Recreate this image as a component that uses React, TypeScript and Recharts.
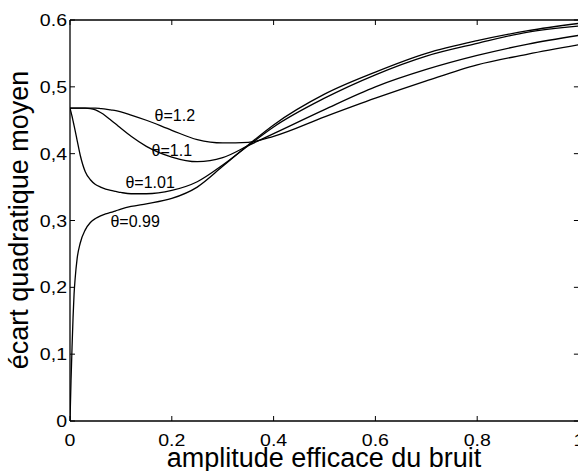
import React from 'react';
import { LineChart, Line, XAxis, YAxis, ReferenceDot, ReferenceLine } from 'recharts';

// shared abscissa grid (rms noise amplitude)
const X = [0, 0.002, 0.004, 0.006, 0.008, 0.01, 0.014, 0.02, 0.03, 0.04, 0.05, 0.06, 0.07, 0.08, 0.09, 0.1, 0.12, 0.15, 0.2, 0.25, 0.3, 0.35, 0.4, 0.5, 0.6, 0.7, 0.8, 0.9, 1.0];

const THETA_12 = [0.468, 0.468, 0.468, 0.468, 0.468, 0.468, 0.468, 0.468, 0.468, 0.468, 0.468, 0.4675, 0.4668, 0.4655, 0.4643, 0.4625, 0.4578, 0.45, 0.435, 0.421, 0.416, 0.417, 0.426, 0.455, 0.483, 0.509, 0.533, 0.549, 0.563];
const THETA_11 = [0.468, 0.468, 0.468, 0.468, 0.468, 0.468, 0.468, 0.468, 0.468, 0.4675, 0.4655, 0.4615, 0.4565, 0.4505, 0.4443, 0.438, 0.426, 0.411, 0.395, 0.388, 0.394, 0.412, 0.43, 0.466, 0.5, 0.526, 0.547, 0.564, 0.577];
const THETA_101 = [0.468, 0.462, 0.456, 0.449, 0.442, 0.435, 0.42, 0.398, 0.373, 0.361, 0.354, 0.35, 0.347, 0.345, 0.3435, 0.342, 0.34, 0.34, 0.345, 0.358, 0.383, 0.412, 0.44, 0.483, 0.518, 0.546, 0.565, 0.582, 0.591];
const THETA_099 = [0, 0.06, 0.11, 0.155, 0.19, 0.212, 0.243, 0.266, 0.286, 0.297, 0.303, 0.307, 0.31, 0.312, 0.3145, 0.317, 0.321, 0.325, 0.333, 0.35, 0.381, 0.413, 0.443, 0.489, 0.522, 0.55, 0.569, 0.584, 0.595];

const X_TICKS = [0, 0.2, 0.4, 0.6, 0.8, 1];
const X_TICK_LABELS = ['0', '0.2', '0.4', '0.6', '0.8', '1'];
const Y_TICKS = [0, 0.1, 0.2, 0.3, 0.4, 0.5, 0.6];
const Y_TICK_LABELS = ['0', '0,1', '0,2', '0,3', '0,4', '0,5', '0.6'];

// curve annotations, placed in data coordinates
const CURVE_LABELS = [
  { text: 'θ=1.2', x: 0.206, y: 0.458 },
  { text: 'θ=1.1', x: 0.2, y: 0.4055 },
  { text: 'θ=1.01', x: 0.1575, y: 0.3576 },
  { text: 'θ=0.99', x: 0.128, y: 0.299 },
];

const data = X.map((x, i) => ({
  x,
  t12: THETA_12[i],
  t11: THETA_11[i],
  t101: THETA_101[i],
  t099: THETA_099[i],
}));

const FONT = '"Liberation Sans", Arial, Helvetica, sans-serif';
const TICK_LEN = 5;
// tick length expressed in data units for the top / right inward ticks
const X_TICK_D = 0.01;
const Y_TICK_D = 0.0075;

const labelFor = (ticks: number[], labels: string[], v: number) => {
  const i = ticks.findIndex(t => Math.abs(t - v) < 1e-9);
  return i >= 0 ? labels[i] : String(v);
};

const BottomTick = ({ x, y, payload }: any) => (
  <g>
    <line x1={x} y1={y} x2={x} y2={y - TICK_LEN} stroke="#000" strokeWidth={1} />
    <text transform={`translate(${x},${y + 25}) scale(1.15,1)`} textAnchor="middle" fontSize={17} fontFamily={FONT} fill="#000">
      {labelFor(X_TICKS, X_TICK_LABELS, payload.value)}
    </text>
  </g>
);

const LeftTick = ({ x, y, payload }: any) => (
  <g>
    <line x1={x} y1={y} x2={x + TICK_LEN} y2={y} stroke="#000" strokeWidth={1} />
    <text transform={`translate(${x - 3},${y + 6}) scale(1.15,1)`} textAnchor="end" fontSize={17} fontFamily={FONT} fill="#000">
      {labelFor(Y_TICKS, Y_TICK_LABELS, payload.value)}
    </text>
  </g>
);

const series = [
  { key: 't12' },
  { key: 't11' },
  { key: 't101' },
  { key: 't099' },
];

export default function App() {
  return (
    <div style={{ position: 'absolute', left: 0, top: 0, width: 578, height: 471, overflow: 'hidden', background: '#fff' }}>
      <LineChart width={600} height={471} data={data} margin={{ top: 20, right: 21, bottom: 0, left: 0 }}>
        <XAxis xAxisId="x" dataKey="x" type="number" domain={[0, 1]} ticks={X_TICKS} interval={0}
          height={50} tickSize={0} tickMargin={0} tickLine={false}
          axisLine={{ stroke: '#000', strokeWidth: 1.3 }} tick={<BottomTick />} allowDataOverflow />
        <YAxis yAxisId="y" type="number" domain={[0, 0.6]} ticks={Y_TICKS} interval={0}
          width={70} tickSize={0} tickMargin={0} tickLine={false}
          axisLine={{ stroke: '#000', strokeWidth: 1.3 }} tick={<LeftTick />} allowDataOverflow />
        {/* box: top and right edges with inward ticks */}
        <ReferenceLine xAxisId="x" yAxisId="y" y={0.6} stroke="#000" strokeWidth={1.3} />
        <ReferenceLine xAxisId="x" yAxisId="y" x={1} stroke="#000" strokeWidth={1.3} />
        {X_TICKS.map(t => (
          <ReferenceLine key={'tx' + t} xAxisId="x" yAxisId="y" stroke="#000" strokeWidth={1}
            segment={[{ x: t, y: 0.6 }, { x: t, y: 0.6 - Y_TICK_D }]} />
        ))}
        {Y_TICKS.map(t => (
          <ReferenceLine key={'ty' + t} xAxisId="x" yAxisId="y" stroke="#000" strokeWidth={1}
            segment={[{ x: 1, y: t }, { x: 1 - X_TICK_D, y: t }]} />
        ))}
        {series.map(s => (
          <Line key={s.key} xAxisId="x" yAxisId="y" dataKey={s.key} type="monotone"
            stroke="#000" strokeWidth={1.3} dot={false} activeDot={false} isAnimationActive={false} />
        ))}
        {CURVE_LABELS.map(l => (
          <ReferenceDot key={l.text} xAxisId="x" yAxisId="y" x={l.x} y={l.y} r={0}
            shape={(p: any) => (
              <text x={p.cx} y={p.cy + 6} textAnchor="middle" fontSize={16} fontFamily={FONT} fill="#000">{l.text}</text>
            )} />
        ))}
      </LineChart>
      <svg width={578} height={471} style={{ position: 'absolute', left: 0, top: 0, pointerEvents: 'none' }}>
        <text x={324} y={467} textAnchor="middle" fontSize={27} fontFamily={FONT} fill="#000">amplitude efficace du bruit</text>
        <text transform="translate(28,220) rotate(-90)" textAnchor="middle" fontSize={27} fontFamily={FONT} fill="#000">écart quadratique moyen</text>
      </svg>
    </div>
  );
}
